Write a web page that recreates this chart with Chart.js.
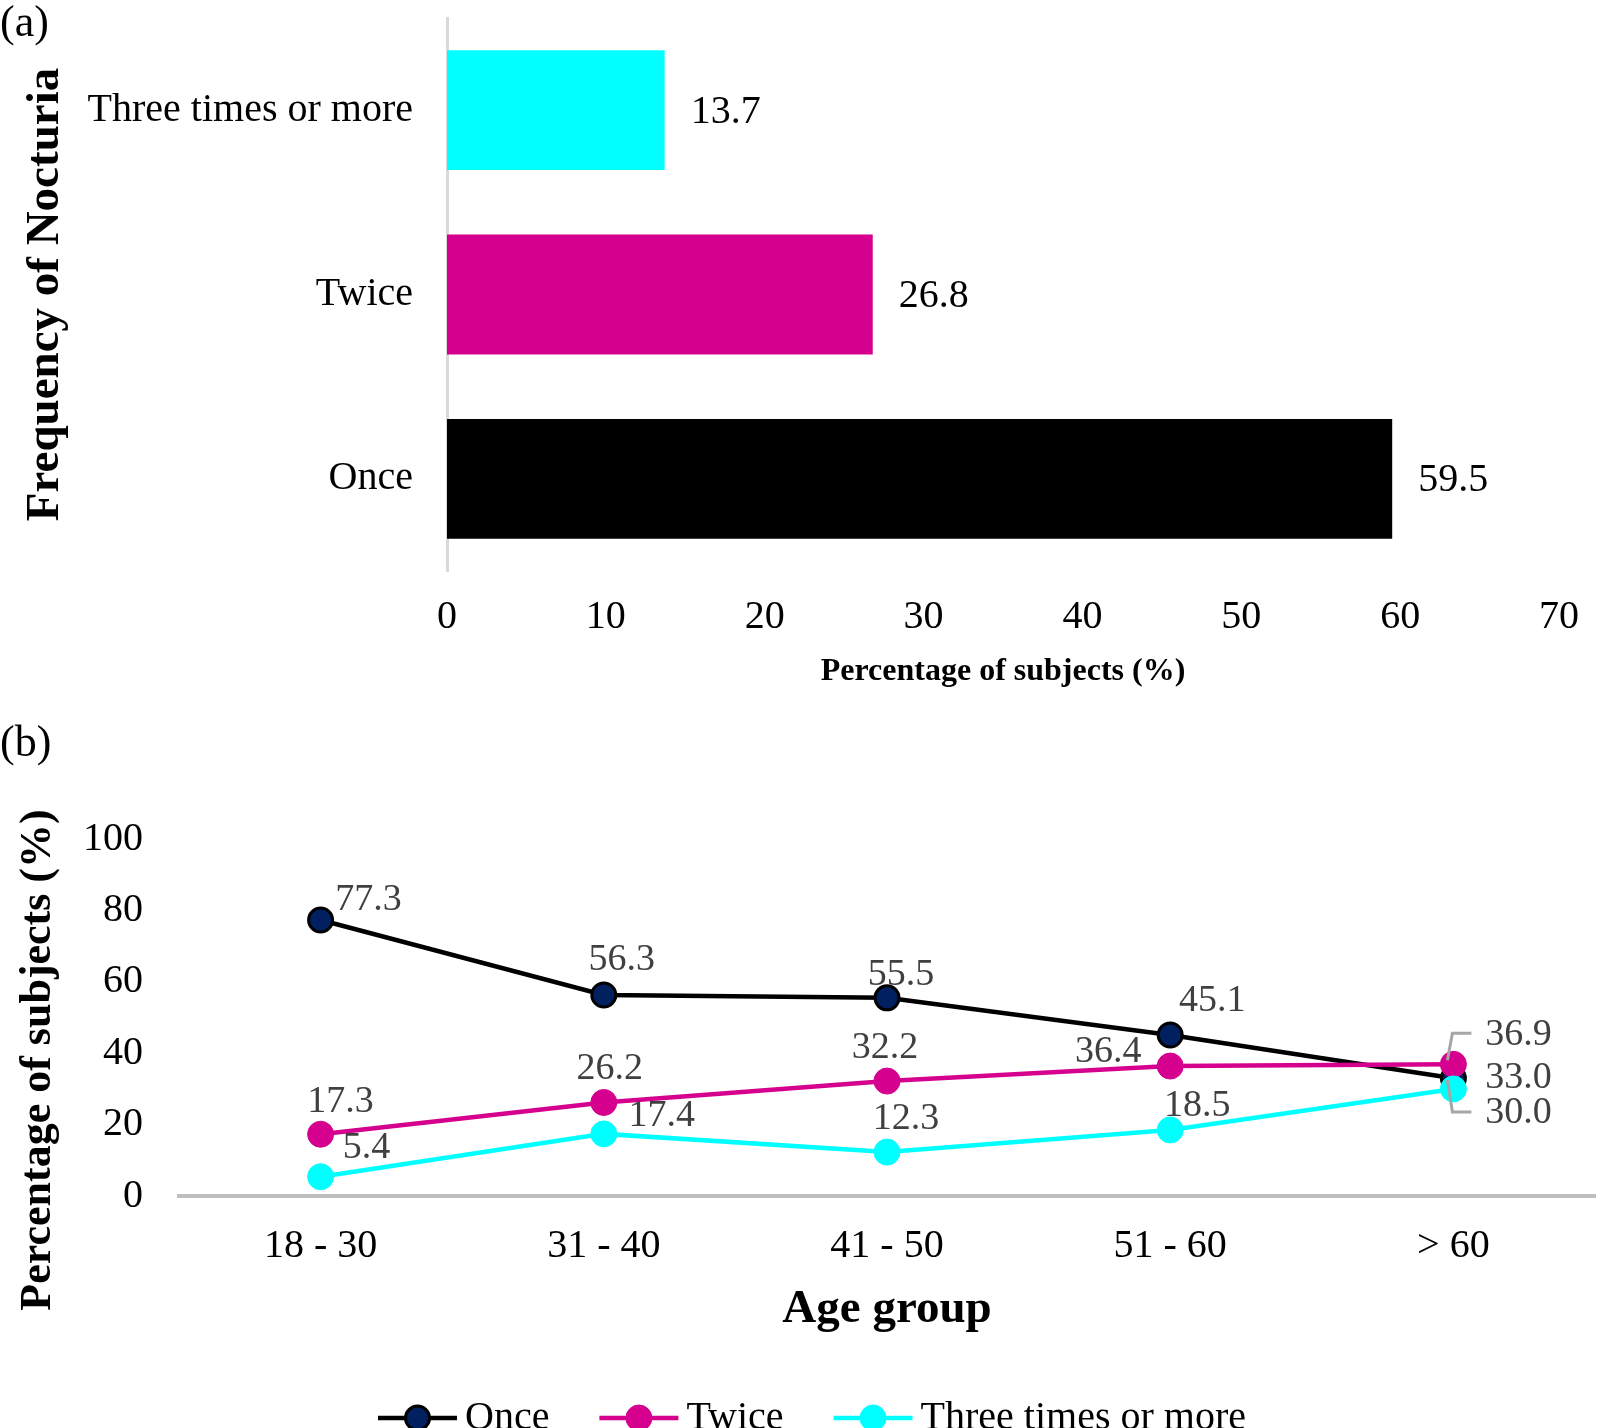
<!DOCTYPE html>
<html>
<head>
<meta charset="utf-8">
<title>Frequency of nocturia</title>
<script src="https://cdn.jsdelivr.net/npm/chart.js@4.4.0/dist/chart.umd.min.js"></script>
<style>
  html, body { margin: 0; padding: 0; background: #fff; }
  body { width: 1600px; height: 1428px; position: relative; overflow: hidden;
         font-family: 'Times New Roman', 'Liberation Serif', serif; color: #000; }
  .panel-tag { position: absolute; left: 0; font-size: 44px; line-height: 44px; }
  #wrapA { position: absolute; left: 0; top: 0; width: 1600px; height: 700px; }
  #wrapB { position: absolute; left: 0; top: 700px; width: 1600px; height: 760px; }
  #yTitleB { position: absolute; left: 36px; top: 1060px; transform: translate(-50%, -50%) rotate(-90deg);
             font-weight: bold; font-size: 44px; line-height: 44px; white-space: nowrap; }
</style>
</head>
<body>
<div id="wrapA"><canvas id="chartA"></canvas></div>
<div id="wrapB"><canvas id="chartB"></canvas></div>
<div class="panel-tag" style="top:0">(a)</div>
<div class="panel-tag" style="top:720px">(b)</div>
<div id="yTitleB">Percentage of subjects (%)</div>
<script>
"use strict";

// 1: data
// panel (a) - overall frequency of nocturia
const frequencies = ['Once', 'Twice', 'Three times or more'];
const overallShare = [59.5, 26.8, 13.7];
const shareTicks = [0, 10, 20, 30, 40, 50, 60, 70];

// panel (b) - frequency by age group
const ageGroups = ['18 - 30', '31 - 40', '41 - 50', '51 - 60', '> 60'];
const onceByAge = [77.3, 56.3, 55.5, 45.1, 33.0];
const twiceByAge = [17.3, 26.2, 32.2, 36.4, 36.9];
const threeByAge = [5.4, 17.4, 12.3, 18.5, 30.0];
const ageTicks = [0, 20, 40, 60, 80, 100];

// where each value label sits, relative to its point (px)
const pointLabelOffsets = [
  [[48, -20], [18, -35], [14, -23], [42, -34], [65, 0]],
  [[20, -32], [6, -33], [-2, -33], [-62, -14], [65, -29]],
  [[46, -29], [58, -18], [19, -33], [27, -24], [65, 24]]
];
// little grey callout lines for the crowded labels at "> 60"
const leaderLines = [
  { series: 1, point: 4, path: [[-6, -4], [-1, -31], [18, -31]] },
  { series: 2, point: 4, path: [[-6, -9], [-1, 23], [18, 23]] }
];

// 2: look
const serif = "'Times New Roman', 'Liberation Serif', serif";
const colOnce = '#000000';
const colOnceMarker = '#002060';
const colTwice = '#d6008f';
const colThree = '#00ffff';

Chart.defaults.font.family = serif;
Chart.defaults.color = '#000';

// no extra room for the end labels - the plot edges are set by hand
function fixSize(prop, size) {
  return s => {
    s[prop] = size;
    s.paddingTop = 0;
    s.paddingBottom = 0;
    s.paddingLeft = 0;
    s.paddingRight = 0;
  };
}

// value at the end of every bar
const barLabels = {
  id: 'barLabels',
  afterDatasetsDraw(chart) {
    const ctx = chart.ctx;
    const values = chart.data.datasets[0].data;
    ctx.save();
    ctx.font = '40px ' + serif;
    ctx.fillStyle = '#000';
    ctx.textAlign = 'left';
    ctx.textBaseline = 'middle';
    chart.getDatasetMeta(0).data.forEach((bar, i) => {
      ctx.fillText(values[i].toFixed(1), bar.x + 26, bar.y + 2);
    });
    ctx.restore();
  }
};

// values next to the points + callout lines
const pointLabels = {
  id: 'pointLabels',
  afterDatasetsDraw(chart) {
    const ctx = chart.ctx;
    ctx.save();
    ctx.strokeStyle = '#a6a6a6';
    ctx.lineWidth = 3;
    for (const lead of leaderLines) {
      const pt = chart.getDatasetMeta(lead.series).data[lead.point];
      ctx.beginPath();
      lead.path.forEach(([dx, dy], k) => {
        if (k === 0) ctx.moveTo(pt.x + dx, pt.y + dy);
        else ctx.lineTo(pt.x + dx, pt.y + dy);
      });
      ctx.stroke();
    }
    ctx.font = '38px ' + serif;
    ctx.fillStyle = '#404040';
    ctx.textAlign = 'center';
    ctx.textBaseline = 'middle';
    chart.data.datasets.forEach((ds, s) => {
      chart.getDatasetMeta(s).data.forEach((pt, i) => {
        const [dx, dy] = pointLabelOffsets[s][i];
        ctx.fillText(ds.data[i].toFixed(1), pt.x + dx, pt.y + dy);
      });
    });
    ctx.restore();
  }
};

// legend with line + marker symbols, like the spreadsheet one
const lineLegend = {
  id: 'lineLegend',
  afterDraw(chart) {
    const ctx = chart.ctx;
    const y = chart.chartArea.bottom + 222;
    const lineLen = 79, gap = 8, itemGap = 50;
    ctx.save();
    ctx.font = '40px ' + serif;
    const items = chart.data.datasets.map(ds => ({ ds, w: ctx.measureText(ds.label).width }));
    const total = items.reduce((sum, it) => sum + lineLen + gap + it.w, 0) + itemGap * (items.length - 1);
    let x = 812 - total / 2;
    for (const { ds, w } of items) {
      ctx.strokeStyle = ds.borderColor;
      ctx.lineWidth = ds.borderWidth;
      ctx.beginPath();
      ctx.moveTo(x, y);
      ctx.lineTo(x + lineLen, y);
      ctx.stroke();
      ctx.beginPath();
      ctx.arc(x + lineLen / 2, y, ds.pointRadius, 0, Math.PI * 2);
      ctx.fillStyle = ds.pointBackgroundColor;
      ctx.fill();
      ctx.lineWidth = ds.pointBorderWidth;
      ctx.strokeStyle = ds.pointBorderColor;
      ctx.stroke();
      ctx.fillStyle = '#000';
      ctx.textAlign = 'left';
      ctx.textBaseline = 'middle';
      ctx.fillText(ds.label, x + lineLen + gap, y);
      x += lineLen + gap + w + itemGap;
    }
    ctx.restore();
  }
};

// 3: panel (a) - horizontal bars
new Chart(document.getElementById('chartA'), {
  type: 'bar',
  data: {
    labels: frequencies,
    datasets: [{
      data: overallShare,
      backgroundColor: [colOnce, colTwice, colThree],
      borderWidth: 0,
      categoryPercentage: 1,
      barPercentage: 0.65
    }]
  },
  options: {
    indexAxis: 'y',
    responsive: true,
    maintainAspectRatio: false,
    animation: false,
    layout: { autoPadding: false, padding: { left: 0, right: 41, top: 18, bottom: 0 } },
    plugins: { legend: { display: false }, tooltip: { enabled: false } },
    scales: {
      x: {
        min: shareTicks[0],
        max: shareTicks[shareTicks.length - 1],
        afterBuildTicks: s => { s.ticks = shareTicks.map(v => ({ value: v })); },
        grid: { display: false, drawTicks: false },
        border: { display: false },
        ticks: { font: { size: 40 }, color: '#000', padding: 22, maxRotation: 0 },
        title: {
          display: true, text: 'Percentage of subjects (%)', color: '#000',
          font: { size: 32, weight: 'bold' }, padding: { top: 0, bottom: 9 }
        },
        afterFit: fixSize('height', 129)
      },
      y: {
        reverse: true,
        grid: { display: false, drawTicks: false },
        border: { display: true, color: '#d9d9d9', width: 3 },
        ticks: { font: { size: 40 }, color: '#000', padding: 34 },
        title: {
          display: true, text: 'Frequency of Nocturia', color: '#000',
          font: { size: 47, weight: 'bold' }, padding: { top: 18, bottom: 0 }
        },
        afterFit: fixSize('width', 447)
      }
    }
  },
  plugins: [barLabels]
});

// 4: panel (b) - lines by age group
new Chart(document.getElementById('chartB'), {
  type: 'line',
  data: {
    labels: ageGroups,
    datasets: [{
      label: 'Once',
      data: onceByAge,
      borderColor: colOnce,
      backgroundColor: colOnceMarker,
      pointBackgroundColor: colOnceMarker,
      pointBorderColor: '#000',
      pointBorderWidth: 3,
      pointRadius: 12,
      borderWidth: 4.5,
      order: 3
    }, {
      label: 'Twice',
      data: twiceByAge,
      borderColor: colTwice,
      backgroundColor: colTwice,
      pointBackgroundColor: colTwice,
      pointBorderColor: colTwice,
      pointBorderWidth: 1,
      pointRadius: 13,
      borderWidth: 4.5,
      order: 2
    }, {
      label: 'Three times or more',
      data: threeByAge,
      borderColor: colThree,
      backgroundColor: colThree,
      pointBackgroundColor: colThree,
      pointBorderColor: colThree,
      pointBorderWidth: 1,
      pointRadius: 13,
      borderWidth: 4.5,
      order: 1
    }]
  },
  options: {
    responsive: true,
    maintainAspectRatio: false,
    animation: false,
    layout: { autoPadding: false, padding: { left: 0, right: 5, top: 139, bottom: 114 } },
    plugins: { legend: { display: false }, tooltip: { enabled: false } },
    elements: { line: { tension: 0 } },
    scales: {
      x: {
        offset: true,
        grid: { display: false, drawTicks: false },
        border: { display: true, color: '#bfbfbf', width: 4 },
        ticks: { font: { size: 40 }, color: '#000', padding: 26, maxRotation: 0 },
        title: {
          display: true, text: 'Age group', color: '#000',
          font: { size: 47, weight: 'bold' }, padding: { top: 0, bottom: 8 }
        },
        afterFit: fixSize('height', 150)
      },
      y: {
        min: ageTicks[0],
        max: ageTicks[ageTicks.length - 1],
        afterBuildTicks: s => { s.ticks = ageTicks.map(v => ({ value: v })); },
        grid: { display: false, drawTicks: false },
        border: { display: false },
        ticks: { font: { size: 40 }, color: '#000', padding: 36 },
        afterFit: fixSize('width', 179)
      }
    }
  },
  plugins: [pointLabels, lineLegend]
});
</script>
</body>
</html>
